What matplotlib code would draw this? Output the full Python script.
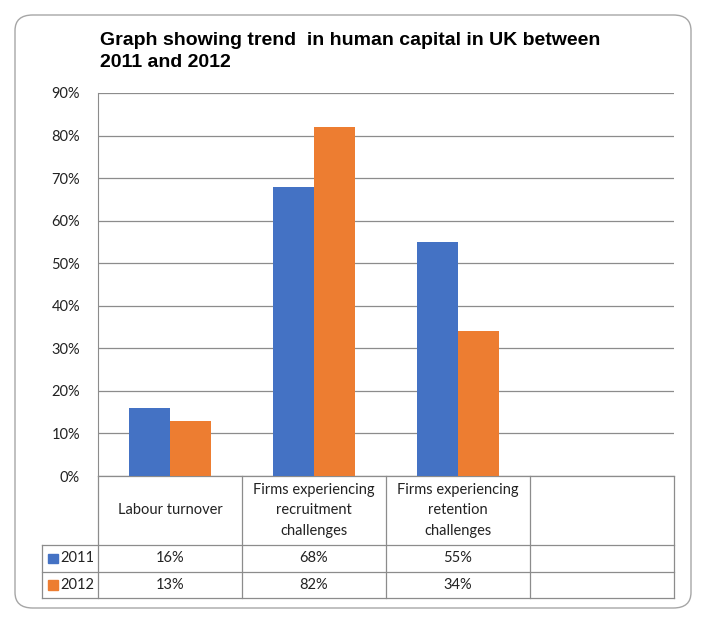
import matplotlib.pyplot as plt
import numpy as np
from matplotlib.patches import FancyBboxPatch, Rectangle
from matplotlib.transforms import blended_transform_factory

categories = ["Labour turnover", "Firms experiencing\nrecruitment\nchallenges",
              "Firms experiencing\nretention\nchallenges", ""]
years = ["2011", "2012"]
values_2011 = [0.16, 0.68, 0.55, None]
values_2012 = [0.13, 0.82, 0.34, None]
yticks = [0.0, 0.1, 0.2, 0.3, 0.4, 0.5, 0.6, 0.7, 0.8, 0.9]

blue = "#4472C4"
orange = "#ED7D31"
grid_col = "#8c8c8c"
txt_col = "#222222"

plt.rcParams['font.family'] = ['Lato', 'DejaVu Sans']

W, H = 707, 623
fig = plt.figure(figsize=(W / 100, H / 100), dpi=100)

# cadre arrondi autour du graphique
frame = FancyBboxPatch((15 / W, 1 - 608 / H), 676 / W, 593 / H,
                       boxstyle="round,pad=0,rounding_size=0.025",
                       transform=fig.transFigure, fill=False,
                       edgecolor="#a6a6a6", linewidth=1.0)
fig.patches.append(frame)

ax = fig.add_axes([98 / W, 1 - 476 / H, (674 - 98) / W, (476 - 93) / H])
x = np.arange(len(categories))
bw = 0.285
v11 = [v if v is not None else 0 for v in values_2011]
v12 = [v if v is not None else 0 for v in values_2012]
ax.bar(x - bw / 2, v11, bw, color=blue, zorder=3)
ax.bar(x + bw / 2, v12, bw, color=orange, zorder=3)

ax.set_xlim(-0.5, len(categories) - 0.5)
ax.set_ylim(0, 0.9)
ax.set_yticks(yticks)
ax.set_yticklabels([f"{int(round(t * 100))}%" for t in yticks], fontsize=10.5, color=txt_col)
ax.yaxis.grid(True, color=grid_col, linewidth=0.9, zorder=0)
ax.set_xticks([])
for s in ["top", "right", "bottom"]:
    ax.spines[s].set_visible(False)
ax.spines["left"].set_color(grid_col)
ax.tick_params(axis="y", length=0, pad=13)

# tableau de données sous l'axe
tr = blended_transform_factory(ax.transData, ax.transAxes)
span = 476 - 93
def ya(py):
    return (476 - py) / span

y_hdr, y_r1, y_r2 = ya(545), ya(572), ya(598)
x_leg = -0.5 - 56 / 144
x_right = len(categories) - 0.5
lk = dict(color=grid_col, linewidth=0.9, transform=tr, clip_on=False)
ax.plot([-0.5, x_right], [0, 0], **lk)
for yy in [y_hdr, y_r1, y_r2]:
    ax.plot([x_leg, x_right], [yy, yy], **lk)
for xx in np.arange(len(categories) + 1) - 0.5:
    ax.plot([xx, xx], [0, y_r2], **lk)
ax.plot([x_leg, x_leg], [y_hdr, y_r2], **lk)

for i, c in enumerate(categories):
    ax.text(i, y_hdr / 2, c, ha="center", va="center", fontsize=10.5,
            color=txt_col, transform=tr, linespacing=1.55)
rows = [values_2011, values_2012]
cols = [blue, orange]
for r, (yr, vals, col) in enumerate(zip(years, rows, cols)):
    yc = ([y_hdr, y_r1][r] + [y_r1, y_r2][r]) / 2
    for i, v in enumerate(vals):
        if v is not None:
            ax.text(i, yc, f"{int(round(v * 100))}%", ha="center", va="center",
                    fontsize=10.5, color=txt_col, transform=tr)
    ax.add_patch(Rectangle((x_leg + 0.042, yc - 0.013), 0.069, 0.026, color=col,
                           transform=tr, clip_on=False))
    ax.text(x_leg + 0.128, yc, yr, ha="left", va="center", fontsize=10.5,
            color=txt_col, transform=tr)

fig.text(100 / W, 1 - 67 / H, "Graph showing trend  in human capital in UK between\n2011 and 2012",
         ha="left", va="baseline", fontsize=14, fontweight="bold",
         family=['Liberation Sans Narrow', 'Liberation Sans'], color="#000000",
         linespacing=1.4)

fig.savefig("out.png", dpi=100)
